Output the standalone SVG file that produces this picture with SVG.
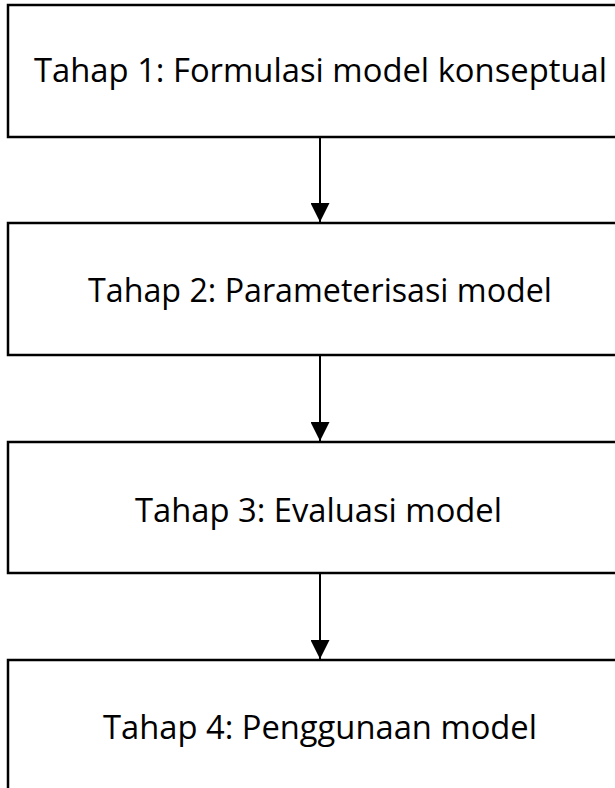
<svg xmlns="http://www.w3.org/2000/svg" width="615" height="788" viewBox="0 0 615 788">
  <style>
    .box { fill: #ffffff; stroke: #000000; stroke-width: 2.5; }
    .label { font-family: "Open Sans", "Noto Sans", "Liberation Sans", sans-serif; font-size: 32px; fill: #000000; text-anchor: middle; }
    .edge { stroke: #000000; stroke-width: 2; fill: none; }
  </style>
  <defs>
    <marker id="arrow" markerUnits="userSpaceOnUse" markerWidth="20" markerHeight="19" refX="19" refY="9.5" orient="auto">
      <path d="M0,0 L19,9.5 L0,19 Z" fill="#000000"/>
    </marker>
  </defs>
  <rect width="615" height="788" fill="#ffffff"/>

  <g id="stage1">
    <rect class="box" x="8" y="5" width="626" height="132"/>
    <text class="label" x="320.5" y="82" textLength="573" lengthAdjust="spacingAndGlyphs">Tahap 1: Formulasi model konseptual</text>
  </g>
  <g id="stage2">
    <rect class="box" x="8" y="223" width="626" height="132"/>
    <text class="label" x="320" y="302" textLength="464" lengthAdjust="spacingAndGlyphs">Tahap 2: Parameterisasi model</text>
  </g>
  <g id="stage3">
    <rect class="box" x="8" y="442" width="626" height="131"/>
    <text class="label" x="318.5" y="522" textLength="367" lengthAdjust="spacingAndGlyphs">Tahap 3: Evaluasi model</text>
  </g>
  <g id="stage4">
    <rect class="box" x="8" y="660" width="626" height="140"/>
    <text class="label" x="320" y="739" textLength="434" lengthAdjust="spacingAndGlyphs">Tahap 4: Penggunaan model</text>
  </g>

  <g id="connectors">
    <line class="edge" x1="320" y1="137" x2="320" y2="222" marker-end="url(#arrow)"/>
    <line class="edge" x1="320" y1="355" x2="320" y2="441" marker-end="url(#arrow)"/>
    <line class="edge" x1="320" y1="573" x2="320" y2="659" marker-end="url(#arrow)"/>
  </g>
</svg>
